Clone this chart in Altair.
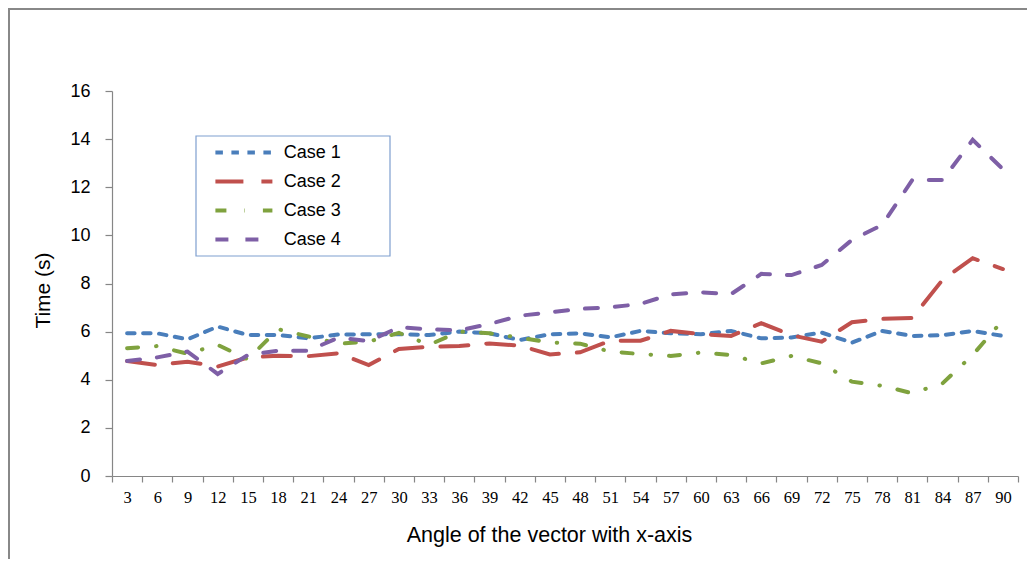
import altair as alt
import pandas as pd

angles = list(range(3, 91, 3))
case_names = ["Case 1", "Case 2", "Case 3", "Case 4"]
case1 = [5.93, 5.93, 5.68, 6.21, 5.86, 5.86, 5.72, 5.88, 5.89, 5.89,
         5.86, 6.00, 5.93, 5.65, 5.89, 5.93, 5.76, 6.03, 5.93, 5.89,
         6.03, 5.72, 5.76, 5.96, 5.54, 6.03, 5.82, 5.85, 6.03, 5.82]
case2 = [4.78, 4.61, 4.75, 4.55, 4.93, 5.00, 4.98, 5.10, 4.61, 5.28,
         5.37, 5.40, 5.51, 5.42, 5.05, 5.14, 5.62, 5.62, 6.03, 5.90,
         5.82, 6.35, 5.85, 5.58, 6.39, 6.53, 6.57, 8.15, 9.05, 8.60]
case3 = [5.31, 5.40, 5.08, 5.45, 4.85, 6.10, 5.80, 5.50, 5.58, 5.95,
         5.45, 6.00, 5.93, 5.75, 5.55, 5.50, 5.17, 5.07, 4.99, 5.13,
         5.03, 4.68, 4.99, 4.68, 3.92, 3.75, 3.44, 3.85, 5.03, 6.48]
case4 = [4.78, 4.93, 5.17, 4.24, 5.03, 5.21, 5.21, 5.75, 5.60, 6.18,
         6.10, 6.05, 6.32, 6.66, 6.80, 6.95, 7.01, 7.15, 7.55, 7.63,
         7.56, 8.40, 8.35, 8.77, 9.81, 10.43, 12.30, 12.30, 13.97, 12.75]
series = [case1, case2, case3, case4]

colors = ["#4A7EBB", "#C0504D", "#7FA23E", "#7E5FA6"]
dashes = [[7.5, 8.5], [28, 18], [11, 18, 0.5, 18], [13, 17]]

rows = []
for name, vals in zip(case_names, series):
    for a, v in zip(angles, vals):
        rows.append({"angle": a, "time": v, "case": name})
df = pd.DataFrame(rows)

W, H = 906, 385
FONT = "Liberation Sans"

legend = alt.Legend(
    title=None, orient="none", legendX=122.4, legendY=52,
    symbolType="M-4,0H4", symbolSize=203, symbolStrokeWidth=4,
    labelFont=FONT, labelFontSize=18, labelColor="#000000",
    labelOffset=30.3, rowPadding=10, padding=0,
)

lines = alt.Chart(df).mark_line(strokeWidth=4, strokeCap="round").encode(
    x=alt.X(
        "angle:Q",
        scale=alt.Scale(domain=[1.5, 91.5], nice=False, zero=False),
        axis=alt.Axis(
            values=[1.5 + 3 * i for i in range(31)],
            labelExpr="datum.value > 90 ? '' : format(datum.value + 1.5, 'd')",
            labelOffset=15.1, labelOverlap=False, labelFlush=False,
            grid=False, tickSize=6, tickColor="#868686", domainColor="#868686",
            labelFont="Liberation Serif", labelFontSize=16.5, labelColor="#000000",
            labelPadding=7,
            title="Angle of the vector with x-axis", titleFont=FONT,
            titleFontSize=21.5, titleFontWeight="normal", titleColor="#000000",
            titlePadding=19, titleX=437, titleAlign="center",
        ),
    ),
    y=alt.Y(
        "time:Q",
        scale=alt.Scale(domain=[0, 16], nice=False),
        axis=alt.Axis(
            values=list(range(0, 17, 2)), grid=False, tickSize=7,
            tickColor="#868686", domainColor="#868686",
            labelFont=FONT, labelFontSize=18, labelColor="#000000",
            labelPadding=15,
            title="Time (s)", titleFont=FONT, titleFontSize=21,
            titleFontWeight="normal", titleColor="#000000", titlePadding=16,
            titleY=199,
        ),
    ),
    color=alt.Color("case:N", scale=alt.Scale(domain=case_names, range=colors), legend=legend),
    strokeDash=alt.StrokeDash("case:N", scale=alt.Scale(domain=case_names, range=dashes), legend=legend),
)

one = pd.DataFrame({"k": [0]})
legend_box = alt.Chart(one).mark_rect(
    fillOpacity=0, stroke="#7F9FCF", strokeWidth=1.2
).encode(x=alt.value(84), x2=alt.value(278), y=alt.value(45), y2=alt.value(165))

outer = alt.Chart(one).mark_rect(
    fillOpacity=0, stroke="#888888", strokeWidth=2
).encode(x=alt.value(-103), x2=alt.value(W + 60), y=alt.value(-82), y2=alt.value(H + 150))

chart = alt.layer(outer, legend_box, lines).properties(
    width=W, height=H,
    padding={"left": 104, "top": 83, "right": 9, "bottom": 83},
    autosize=alt.AutoSizeParams(type="none"),
).configure_view(stroke=None).configure_axis(domainWidth=1.2, tickWidth=1.2)

chart.save("out.html", embed_options={"renderer": "svg", "actions": False})
